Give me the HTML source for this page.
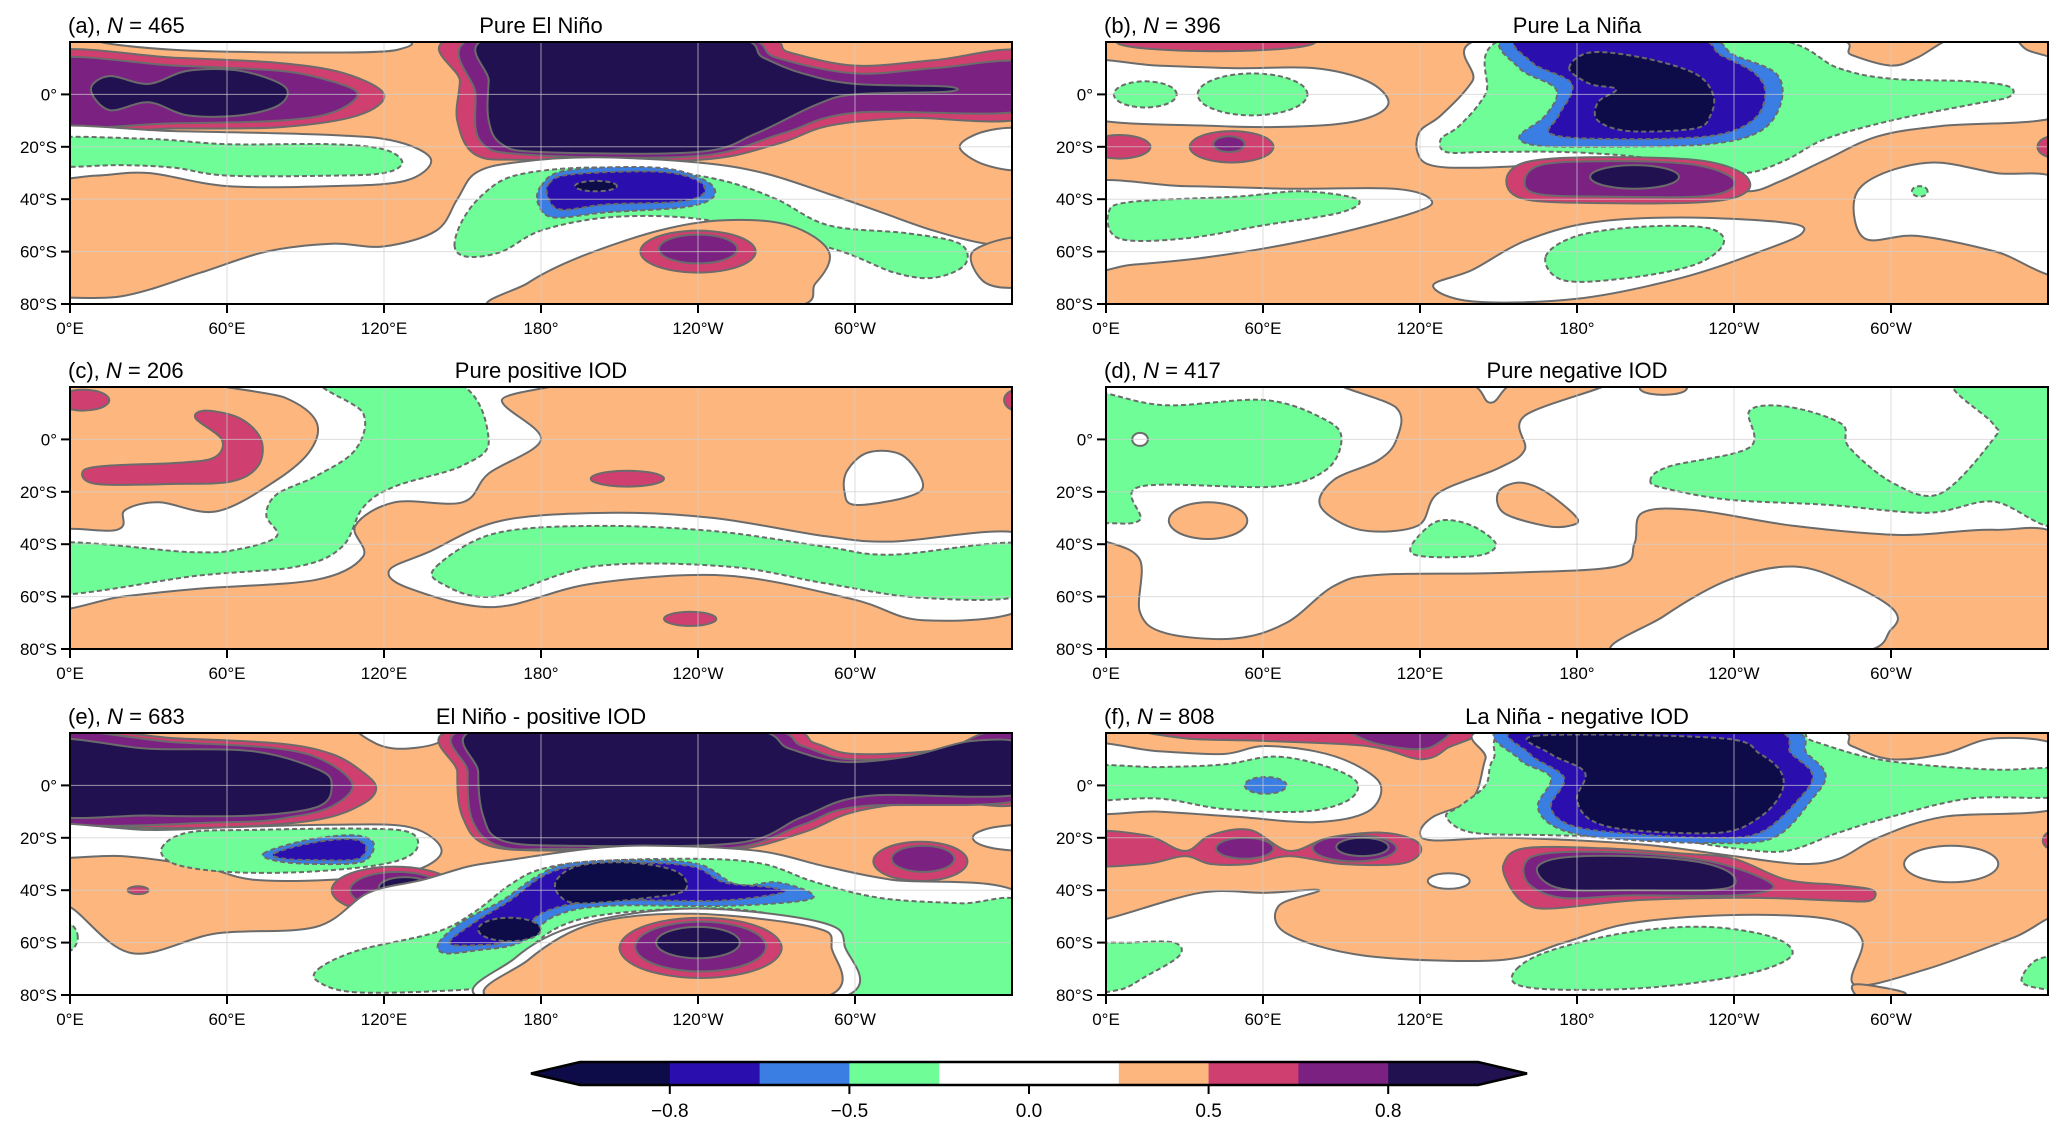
<!DOCTYPE html>
<html><head><meta charset="utf-8">
<style>
body{margin:0;background:#fff;}
svg{display:block;font-family:"Liberation Sans","DejaVu Sans",sans-serif;}
</style></head>
<body>
<svg id="fig" width="2067" height="1135" viewBox="0 0 2067 1135" xmlns="http://www.w3.org/2000/svg"></svg>
<script>
// ---------- data ----------
const levelColors = {w:'#ffffff',o:'#fdb77e',m:'#cf3f6f',p:'#7b2182',n:'#221150',g:'#6ffd98',b:'#3a7de3',i:'#2a0fae',d:'#0e0c48'};
const negLevels = ['g','b','i','d'];
const cbLevels = ['d','i','b','g','w','w','o','m','p','n'];
const cbTickValues = [-0.8,-0.5,0.0,0.5,0.8];
const cbTickLabels = ['\u22120.8','\u22120.5','0.0','0.5','0.8'];
const cbTickIndex = [1,3,5,7,9];
const xTickLons = [0,60,120,180,240,300];
const xTickLabels = ['0°E','60°E','120°E','180°','120°W','60°W'];
const yTickLats = [0,-20,-40,-60,-80];
const yTickLabels = ['0°','20°S','40°S','60°S','80°S'];

const panelTags = ['(a)','(b)','(c)','(d)','(e)','(f)'];
const panelN = [465,396,206,417,683,808];
const panelTitles = ['Pure El Niño','Pure La Niña','Pure positive IOD','Pure negative IOD','El Niño - positive IOD','La Niña - negative IOD'];
const panelBg = ['o','o','o','w','o','o'];

const shapesA = [
 ['w','p',[[15,21],[120,21],[125,17],[100,16],[40,17]]],
 ['m','p',[[-10,15.5],[40,14],[80,12],[105,8],[120,0],[110,-8],[80,-12.5],[40,-13],[-10,-13]]],
 ['p','p',[[-10,13],[40,11],[80,9],[100,5],[110,0],[100,-7],[80,-10],[40,-11],[-10,-11]]],
 ['n','p',[[8,2],[15,7],[30,4],[45,9],[65,9],[82,3],[80,-4],[65,-8],[45,-8],[30,-3],[15,-6]]],
 ['m','p',[[149,22],[149,5],[148,-10],[155,-23],[175,-25],[240,-25],[270,-19],[290,-12],[320,-9],[365,-8.5],[365,16],[330,13],[300,11],[275,16],[258,22]]],
 ['p','p',[[156,22],[155,0],[157,-18],[175,-23],[240,-23.5],[272,-15],[300,-7],[365,-6],[365,12],[330,10],[300,8],[270,14],[252,22]]],
 ['n','p',[[162,22],[160,5],[160,-10],[165,-19],[180,-22],[240,-22],[262,-15],[285,-4],[300,0],[335,1],[335,3],[300,4],[280,8],[265,14],[250,22]]],
 ['w','p',[[-10,-13],[40,-14],[100,-15.5],[125,-18],[138,-25],[128,-33],[100,-35],[60,-35],[30,-30],[10,-31],[-10,-31]]],
 ['g','p',[[-10,-17],[30,-17],[60,-19],[100,-19],[120,-21],[127,-26],[120,-30],[100,-31],[60,-31],[40,-28],[20,-27],[-10,-27]]],
 ['w','p',[[340,-20],[350,-14],[365,-14],[365,-28],[350,-27]]],
 ['w','p',[[-10,-78],[20,-77],[50,-68],[75,-60],[100,-57],[120,-58],[140,-52],[148,-40],[155,-30],[170,-26],[200,-24],[240,-26],[265,-30],[290,-38],[310,-45],[330,-52],[350,-57],[365,-57],[365,-85],[-10,-85]]],
 ['o','p',[[345,-60],[365,-55],[365,-72],[350,-72]]],
 ['g','p',[[147,-58],[150,-48],[158,-38],[170,-31],[195,-28],[225,-29],[250,-33],[270,-40],[290,-50],[320,-53],[340,-57],[342,-65],[330,-70],[315,-68],[295,-60],[265,-52],[235,-47],[205,-47],[180,-52],[165,-60],[152,-62]]],
 ['b','p',[[180,-35],[190,-29],[225,-28],[243,-33],[246,-39],[235,-43],[205,-45],[185,-47],[179,-42]]],
 ['i','p',[[183,-34],[192,-30.5],[225,-29.5],[240,-33],[242,-38],[232,-41],[205,-42],[188,-44],[183,-40]]],
 ['d','e',[201,-35,8,2]],
 ['o','p',[[165,-82],[175,-72],[195,-62],[225,-52],[250,-48],[275,-50],[290,-60],[285,-72],[270,-82]]],
 ['m','e',[240,-60,22,8]],
 ['p','e',[240,-59,15,5.5]]
];
const shapesB = [
 ['m','e',[42,20,38,3.5]],
 ['w','p',[[-10,12],[20,11],[50,10],[80,10],[100,5],[108,-3],[100,-9],[80,-12],[40,-12],[-10,-8]]],
 ['g','e',[15,0,12,5]],
 ['g','e',[56,0,21,8]],
 ['m','e',[5,-20,12,4.5]],
 ['m','e',[48,-20,16,6]],
 ['p','e',[47,-19,6,3]],
 ['m','e',[362,-20,6,4]],
 ['w','p',[[148,22],[140,5],[128,-8],[120,-14],[119,-22],[124,-27],[140,-28],[175,-27],[205,-29],[225,-33],[245,-37],[258,-33],[275,-25],[295,-16],[320,-12],[365,-8],[365,11],[352,17],[345,22],[325,22],[310,14],[300,11],[285,15],[270,22]]],
 ['g','p',[[155,22],[145,0],[135,-12],[128,-17],[130,-22],[145,-22],[175,-22],[205,-24],[230,-28],[245,-30],[260,-25],[275,-17],[300,-10],[330,-4],[345,-1],[345,3],[330,5],[300,6],[280,10],[250,22]]],
 ['b','p',[[155,22],[158,10],[172,2],[168,-8],[158,-16],[165,-19.5],[190,-20],[230,-19],[250,-14],[258,-3],[256,8],[240,15],[225,22]]],
 ['i','p',[[160,22],[163,12],[178,4],[173,-8],[170,-15],[190,-17],[230,-16],[247,-10],[252,0],[248,8],[235,15],[222,22]]],
 ['d','p',[[177,10],[185,16],[205,14],[225,8],[232,0],[231,-8],[225,-13],[200,-14],[188,-10],[188,-3],[195,2],[185,4]]],
 ['m','p',[[153,-33],[160,-26],[185,-24],[225,-25],[243,-30],[245,-37],[230,-41],[190,-41.5],[160,-40]]],
 ['p','p',[[160,-33],[166,-27],[188,-25.5],[222,-26.5],[238,-31],[239,-36],[226,-39],[190,-39],[165,-38]]],
 ['n','e',[202,-31.5,17,4.5]],
 ['w','p',[[-10,-35],[30,-35],[70,-36],[110,-36],[124,-40],[118,-45],[80,-55],[40,-62],[10,-65],[-10,-66]]],
 ['g','p',[[1,-45],[10,-41],[50,-39],[75,-37],[96,-40],[90,-45],[60,-50],[30,-55],[5,-55]]],
 ['w','p',[[125,-73],[140,-67],[160,-56],[185,-49],[220,-47],[260,-49],[266,-53],[250,-60],[220,-70],[180,-78],[140,-79]]],
 ['g','p',[[168,-62],[180,-54],[205,-50.5],[230,-51],[236,-57],[225,-65],[200,-70],[175,-71]]],
 ['w','p',[[286,-40],[295,-31],[316,-26],[340,-30],[365,-34],[365,-68],[340,-60],[310,-54],[290,-55]]],
 ['g','e',[311,-37,3,2]]
];
const shapesC = [
 ['w','p',[[59,22],[82,16],[94,7],[92,-4],[79,-15.5],[56,-27.5],[34,-24],[21,-27],[18,-34.5],[-10,-36.5],[-10,-64],[20,-60],[49,-57],[94,-53.6],[112,-44.7],[109,-33],[124,-24],[150,-24],[160,-13],[180,0],[165,15],[182,22]]],
 ['g','p',[[97,22],[112,10],[109,-4],[94,-14],[79,-21],[75,-29],[79,-37],[64,-42],[46,-43],[-10,-40],[-10,-59],[49,-52],[87,-48.5],[104,-41],[112,-26],[124,-18],[150,-10],[160,0],[147,22]]],
 ['m','p',[[5,-12],[15,-10],[40,-9],[55,-7],[58,0],[48,8],[52,11],[65,8],[73,0],[72,-10],[62,-16],[40,-17],[10,-17]]],
 ['m','e',[5,15,10,4]],
 ['m','e',[362,15,5,4]],
 ['m','e',[213,-15,14,3]],
 ['m','e',[237,-68.5,10,2.7]],
 ['w','p',[[297,-12],[305,-5],[318,-6],[326,-17],[320,-22],[300,-25],[296,-20]]],
 ['w','p',[[122,-50],[137,-43],[165,-31],[208,-28],[246,-30],[289,-37],[314,-39],[365,-36.5],[365,-64],[326,-69],[299,-61],[251,-52],[200,-55],[162,-64],[130,-57]]],
 ['g','p',[[140,-48.5],[162,-36],[200,-33],[246,-35],[289,-41],[314,-44],[365,-40],[365,-59],[326,-60.5],[289,-55],[251,-48.5],[200,-48.5],[162,-60],[142,-55]]]
];
const shapesD = [
 ['o','p',[[-10,-38],[0,-39],[13,-46],[13,-66],[23,-74],[49,-76],[69,-70],[87,-56],[104,-51.7],[150,-51],[195,-48.5],[202,-39.6],[205,-28],[225,-27],[263,-33],[304,-36.5],[339,-34.5],[365,-39],[365,-85],[-10,-85]]],
 ['w','p',[[196,-82],[213,-67.6],[238,-53.6],[263,-48.5],[284,-55],[301,-65],[300,-72.6],[283,-82]]],
 ['o','p',[[89,22],[136,22],[147,14],[158,22],[193,22],[160,9],[160,-4],[150,-11],[127,-20.5],[119,-33],[97,-34.5],[82,-25.6],[87,-15.5],[104,-8],[111,0],[111,12]]],
 ['o','e',[213,19.5,9,2.5]],
 ['o','e',[39,-31,15,7]],
 ['o','p',[[150,-20],[158,-16.5],[168,-20],[180,-30],[177,-33],[168,-33],[152,-28]]],
 ['g','p',[[117,-40],[125,-32],[133,-31],[142,-34],[149,-40],[144,-44],[130,-45],[118,-44]]],
 ['g','p',[[-10,18],[0,17.5],[23,13],[61,15],[84,7.4],[90,0],[84,-11.7],[64,-18],[13,-18],[13,-30.7],[0,-32],[-10,-32]]],
 ['w','e',[13,0,3,2.5]],
 ['g','p',[[208,-16],[215,-10.4],[246,-3],[246,11],[261,12.4],[281,6],[284,-3],[301,-16.8],[319,-20.6],[339,0],[339,6],[324,22],[365,22],[365,-31],[339,-23.7],[314,-28],[276,-25],[238,-23],[215,-19]]]
];
const shapesE = [
 ['w','p',[[112,22],[145,22],[140,16],[125,14],[115,17]]],
 ['m','p',[[-10,20],[40,18],[80,16],[100,12],[112,5],[117,-1],[112,-7],[95,-13],[60,-16],[20,-16],[-10,-14]]],
 ['p','p',[[-10,19],[40,16.5],[80,14],[98,9],[108,0],[100,-8],[85,-12],[60,-14],[-10,-12.5]]],
 ['n','p',[[-10,16.5],[30,14],[70,13],[95,6],[100,0],[95,-8],[70,-11.5],[30,-11.5],[-10,-10]]],
 ['m','p',[[150,22],[148,5],[150,-12],[160,-23],[190,-25],[250,-25],[280,-18],[300,-10],[330,-6],[365,-6],[365,22],[355,22],[335,14],[300,12],[285,16],[265,22]]],
 ['p','p',[[154,22],[152,5],[154,-14],[165,-23.5],[190,-24.2],[252,-24],[280,-15],[302,-8],[365,-5],[365,18],[350,20],[330,12],[298,10],[280,15],[260,22]]],
 ['n','p',[[158,22],[156,5],[158,-12],[165,-21],[190,-23],[255,-22],[280,-12],[305,-4],[365,-3],[365,15],[345,17],[320,11],[295,9],[275,14],[255,22]]],
 ['w','p',[[-10,-15],[30,-17],[60,-16],[100,-15],[130,-16],[142,-25],[130,-33],[100,-36],[70,-36],[50,-31],[20,-27],[-10,-27]]],
 ['g','p',[[35,-24],[45,-18],[70,-17],[110,-16.5],[130,-18],[132,-25],[120,-30],[90,-33],[60,-33],[40,-30]]],
 ['b','p',[[74,-26],[90,-21],[108,-19],[116,-22],[112,-29],[95,-30],[80,-29]]],
 ['i','p',[[78,-26],[92,-22],[107,-20.5],[113,-23],[110,-28],[95,-28.5],[82,-28]]],
 ['m','e',[124,-40,24,9]],
 ['p','e',[125,-40,18,7]],
 ['n','e',[128,-39,10,4]],
 ['m','e',[26,-40,4,1.5]],
 ['m','e',[325,-29,18,7.5]],
 ['p','e',[326,-28,12,5]],
 ['w','e',[365,-20,20,5]],
 ['w','p',[[-10,-46.4],[0,-46.4],[23.5,-64],[56,-56.5],[94,-54],[114,-41],[135,-36],[152,-31],[167,-28.6],[200,-24],[225,-23],[263,-25],[289,-31],[314,-36],[365,-42.5],[365,-85],[-10,-85]]],
 ['g','p',[[95,-70],[110,-63],[140,-56],[155,-48],[168,-38],[180,-32],[200,-29],[240,-28],[265,-30],[285,-37],[310,-43],[340,-45],[365,-46],[365,-85],[290,-85],[292,-70],[292,-60],[283,-53],[250,-47],[200,-50],[178,-60],[170,-75],[150,-78],[110,-79],[95,-75]]],
 ['g','e',[-3,-58,6,6]],
 ['b','p',[[141,-60],[150,-52],[165,-44],[178,-35],[190,-30],[215,-28.5],[240,-30],[255,-38],[270,-37],[283,-41],[280,-44],[250,-46],[205,-46],[185,-50],[172,-60],[155,-63],[143,-64]]],
 ['i','p',[[145,-60],[155,-52],[168,-44],[180,-35],[192,-31],[215,-29.5],[238,-31],[250,-37],[268,-39],[272,-41],[248,-44],[205,-44],[182,-48],[168,-59],[155,-61]]],
 ['d','p',[[186,-36],[195,-30.5],[215,-29.5],[232,-33],[235,-40],[220,-43],[195,-45],[187,-42]]],
 ['d','e',[168,-55,12,4.5]],
 ['w','p',[[162,-82],[170,-66],[195,-53],[238,-47],[286,-52],[296,-61],[290,-82]]],
 ['o','p',[[165,-82],[175,-66.7],[200,-52.7],[238,-49],[283.5,-54],[291,-61.6],[283.5,-82]]],
 ['m','e',[241,-62,31,11.5]],
 ['p','e',[241,-61.5,25,9.5]],
 ['n','e',[240,-60,16,6]]
];
const shapesF = [
 ['m','p',[[20,22],[135,22],[130,14],[120,10],[100,15],[60,17],[30,18]]],
 ['p','p',[[95,22],[130,22],[125,15],[115,14],[100,17]]],
 ['w','p',[[-10,15],[20,13],[45,12],[60,15],[80,13],[95,8],[105,0],[100,-10],[80,-14],[50,-12],[20,-10],[-10,-9]]],
 ['g','p',[[-10,7],[20,7],[45,8],[65,11],[85,7],[96,1],[92,-6],[75,-10],[45,-9],[20,-5],[-10,-5]]],
 ['b','e',[61,0,8,3.2]],
 ['m','p',[[-10,-18],[15,-19],[30,-25],[40,-19],[55,-17],[70,-25],[85,-20],[105,-18],[118,-21],[120,-26],[112,-30],[90,-30],[70,-27],[55,-30],[40,-30],[30,-27],[15,-30],[-10,-30]]],
 ['p','e',[53,-24,11,4]],
 ['p','e',[95,-24,16,5]],
 ['n','e',[98,-23.5,10,3.5]],
 ['w','p',[[150,22],[145,10],[140,-5],[125,-12],[120,-18],[125,-21],[150,-20],[180,-21],[210,-23],[240,-27],[265,-30],[280,-28],[295,-20],[320,-12],[365,-8],[365,14],[340,18],[320,12],[300,10],[285,15],[270,22]]],
 ['g','p',[[160,22],[148,10],[145,0],[135,-8],[130,-12],[140,-18],[170,-19],[210,-20],[240,-24],[260,-25],[280,-18],[300,-12],[330,-5],[365,-4],[365,6],[340,6],[310,8],[290,11],[270,17],[255,22]]],
 ['b','p',[[155,22],[158,10],[170,3],[165,-8],[172,-16],[190,-20],[230,-22],[255,-20],[270,-5],[275,4],[268,12],[255,22]]],
 ['i','p',[[160,22],[162,12],[175,3],[170,-8],[177,-15],[195,-18],[230,-20],[250,-18],[265,-5],[270,4],[262,12],[250,22]]],
 ['d','p',[[165,19],[170,12],[183,5],[180,-5],[185,-13],[200,-17],[235,-18],[250,-12],[258,-3],[258,5],[250,12],[235,18]]],
 ['m','p',[[152,-30],[160,-24],[190,-24],[220,-26],[240,-28],[260,-36],[280,-38],[293,-40],[292,-44],[280,-44],[255,-43],[230,-43],[200,-44],[170,-47],[160,-45],[154,-38]]],
 ['p','p',[[160,-30],[168,-26],[195,-25.5],[225,-28],[245,-33],[255,-39],[240,-42],[200,-42],[175,-43],[162,-38]]],
 ['n','p',[[165,-31],[175,-27.5],[200,-27],[225,-29],[238,-33],[240,-38],[230,-40],[200,-40],[178,-40],[168,-37]]],
 ['w','e',[131,-36.5,8,3]],
 ['w','e',[323,-30,18,7]],
 ['m','e',[362,-21,4,3.5]],
 ['w','p',[[-10,-51],[0,-51],[36,-41],[61,-41],[81.5,-40],[66,-46],[69,-56.5],[99,-65],[150,-66.7],[175,-60],[200,-52.7],[238,-49.5],[276,-51],[289,-59],[286,-76],[314,-70],[347,-58],[365,-51.4],[365,-85],[-10,-85]]],
 ['o','p',[[286,-76],[289,-82],[300,-82],[305,-79]]],
 ['g','p',[[157,-70],[170,-63],[200,-56],[230,-54],[255,-58],[262,-65],[245,-72],[210,-77],[175,-78],[157,-76]]],
 ['g','p',[[-10,-62],[10,-60],[26,-60],[28,-65],[15,-73],[5,-78],[-10,-78]]],
 ['g','p',[[365,-66],[355,-67],[350,-75],[360,-78],[365,-78]]]
];
const panelShapes = [shapesA,shapesB,shapesC,shapesD,shapesE,shapesF];

// ---------- layout ----------
const NS='http://www.w3.org/2000/svg';
const svg=document.getElementById('fig');
const panelX=[70,1106,70,1106,70,1106];
const panelY=[42,42,387,387,733,733];
const PW=942, PH=262;
function mk(tag,attrs,parent){const e=document.createElementNS(NS,tag);for(const k in attrs)e.setAttribute(k,attrs[k]);(parent||svg).appendChild(e);return e;}
function smoothPath(pts,sx,sy){
  const n=pts.length;const P=pts.map(p=>[sx(p[0]),sy(p[1])]);
  let d='M'+P[0][0].toFixed(1)+','+P[0][1].toFixed(1);
  for(let i=0;i<n;i++){
    const p0=P[(i-1+n)%n],p1=P[i],p2=P[(i+1)%n],p3=P[(i+2)%n];
    const c1=[p1[0]+(p2[0]-p0[0])/6,p1[1]+(p2[1]-p0[1])/6];
    const c2=[p2[0]-(p3[0]-p1[0])/6,p2[1]-(p3[1]-p1[1])/6];
    d+='C'+c1[0].toFixed(1)+','+c1[1].toFixed(1)+' '+c2[0].toFixed(1)+','+c2[1].toFixed(1)+' '+p2[0].toFixed(1)+','+p2[1].toFixed(1);
  }
  return d+'Z';
}
function ellipsePts(e){const pts=[];for(let k=0;k<12;k++){const a=k/12*2*Math.PI;pts.push([e[0]+e[2]*Math.cos(a),e[1]+e[3]*Math.sin(a)]);}return pts;}

for(let pi=0;pi<6;pi++){
  const X0=panelX[pi],Y0=panelY[pi];
  const sx=lon=>X0+lon/360*PW;
  const sy=lat=>Y0+(20-lat)/100*PH;
  const g=mk('g',{});
  
  
  const cp=mk('clipPath',{id:'clip'+pi},g);
  mk('rect',{x:X0,y:Y0,width:PW,height:PH},cp);
  const inner=mk('g',{'clip-path':'url(#clip'+pi+')'},g);
  const bg=mk('rect',{x:X0,y:Y0,width:PW,height:PH,fill:levelColors[panelBg[pi]]},inner);
  
  
  panelShapes[pi].forEach(s=>{
    const pts=s[1]==='e'?ellipsePts(s[2]):s[2];
    const neg=negLevels.indexOf(s[0])>=0;
    const p=mk('path',{d:smoothPath(pts,sx,sy),fill:levelColors[s[0]],stroke:'#6b6b6b','stroke-width':2,'stroke-dasharray':neg?'5,3':'none'},inner);
    
    
  });
  xTickLons.forEach(l=>{if(l>0)mk('line',{x1:sx(l),x2:sx(l),y1:Y0,y2:Y0+PH,stroke:'#cfcfcf','stroke-width':1,opacity:0.7},inner);});
  yTickLats.forEach(l=>{mk('line',{x1:X0,x2:X0+PW,y1:sy(l),y2:sy(l),stroke:'#cfcfcf','stroke-width':1,opacity:0.7},inner);});
  const fr=mk('rect',{x:X0,y:Y0,width:PW,height:PH,fill:'none',stroke:'#000','stroke-width':2},g);
  
  
  xTickLons.forEach((l,k)=>{
    mk('line',{x1:sx(l),x2:sx(l),y1:Y0+PH,y2:Y0+PH+9,stroke:'#000','stroke-width':2},g);
    const t=mk('text',{x:sx(l),y:Y0+PH+30,'font-size':17,'text-anchor':'middle',fill:'#000'},g);
    t.textContent=xTickLabels[k];
    
    
  });
  yTickLats.forEach((l,k)=>{
    mk('line',{x1:X0-9,x2:X0,y1:sy(l),y2:sy(l),stroke:'#000','stroke-width':2},g);
    const t=mk('text',{x:X0-13,y:sy(l)+6,'font-size':17,'text-anchor':'end',fill:'#000'},g);
    t.textContent=yTickLabels[k];
    
    
  });
  const tl=mk('text',{x:X0-2,y:Y0-9,'font-size':22,fill:'#000'},g);
  tl.innerHTML=panelTags[pi]+', <tspan font-style="italic">N</tspan> = '+panelN[pi];
  
  
  const tt=mk('text',{x:X0+PW/2,y:Y0-9,'font-size':22,'text-anchor':'middle',fill:'#000'},g);
  tt.textContent=panelTitles[pi];
  
  
}

// ---------- colorbar ----------
const cbX0=580,cbX1=1478,cbY=1062,cbH=23,tipL=531,tipR=1527;
const segW=(cbX1-cbX0)/cbLevels.length;
const cbg=mk('g',{});


const lt=mk('polygon',{points:`${tipL},${cbY+cbH/2} ${cbX0},${cbY} ${cbX0},${cbY+cbH}`,fill:levelColors[cbLevels[0]]},cbg);


const rt=mk('polygon',{points:`${tipR},${cbY+cbH/2} ${cbX1},${cbY} ${cbX1},${cbY+cbH}`,fill:levelColors[cbLevels[cbLevels.length-1]]},cbg);


for(let k=0;k<cbLevels.length;k++){
  const r=mk('rect',{x:cbX0+k*segW,y:cbY,width:segW+0.5,height:cbH,fill:levelColors[cbLevels[k]]},cbg);
  
  
}
mk('polygon',{points:`${tipL},${cbY+cbH/2} ${cbX0},${cbY} ${cbX1},${cbY} ${tipR},${cbY+cbH/2} ${cbX1},${cbY+cbH} ${cbX0},${cbY+cbH}`,fill:'none',stroke:'#000','stroke-width':2.5},cbg);
cbTickValues.forEach((v,k)=>{
  const x=cbX0+cbTickIndex[k]*segW;
  mk('line',{x1:x,x2:x,y1:cbY+cbH,y2:cbY+cbH+9,stroke:'#000','stroke-width':2},cbg);
  const t=mk('text',{x:x,y:cbY+cbH+32,'font-size':19,'text-anchor':'middle',fill:'#000'},cbg);
  t.textContent=cbTickLabels[k];
  
  
});
</script>
</body></html>
